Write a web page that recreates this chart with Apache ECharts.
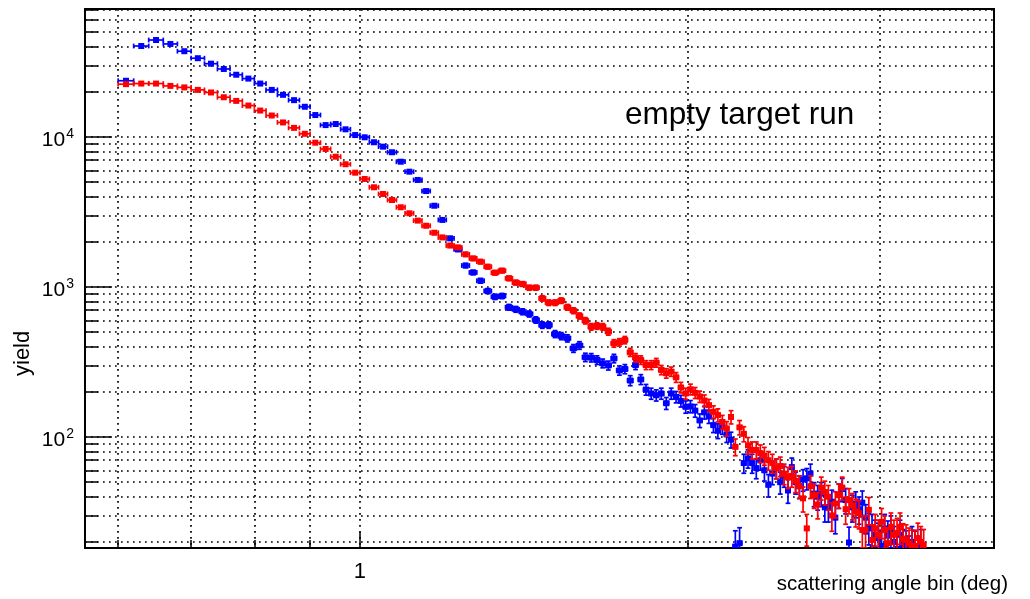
<!DOCTYPE html>
<html><head><meta charset="utf-8">
<script src="https://cdn.jsdelivr.net/npm/echarts@6/dist/echarts.min.js"></script>
<style>html,body{margin:0;padding:0;background:#fff}#c{width:1030px;height:599px}</style>
</head><body><div id="c"></div>
<script>
// ---- data ----
const binCenters = [
 0.61,0.63,0.65,0.67,0.69,0.71,0.73,0.75,0.77,0.79,
 0.81,0.83,0.85,0.87,0.89,0.91,0.93,0.95,0.97,0.99,
 1.01,1.03,1.05,1.07,1.09,1.11,1.13,1.15,1.17,1.19,
 1.21,1.23,1.25,1.27,1.29,1.31,1.33,1.35,1.37,1.39,
 1.41,1.43,1.45,1.47,1.49,1.51,1.53,1.55,1.57,1.59,
 1.61,1.63,1.65,1.67,1.69,1.71,1.73,1.75,1.77,1.79,
 1.81,1.83,1.85,1.87,1.89,1.91,1.93,1.95,1.97,1.99,
 2.01,2.03,2.05,2.07,2.09,2.11,2.13,2.15,2.17,2.19,
 2.21,2.23,2.25,2.27,2.29,2.31,2.33,2.35,2.37,2.39,
 2.41,2.43,2.45,2.47,2.49,2.51,2.53,2.55,2.57,2.59,
 2.61,2.63,2.65,2.67,2.69,2.71,2.73,2.75,2.77,2.79,
 2.81,2.83,2.85,2.87,2.89,2.91,2.93,2.95,2.97,2.99,
 3.01,3.03,3.05,3.07,3.09,3.11,3.13,3.15,3.17,3.19,
 3.21,3.23,3.25,3.27,3.29
];
const binHalfWidth = 0.01;
const blueYield = [
 23700,40400,44300,41700,37300,33500,30800,28400,26000,24500,
 22700,20600,19100,17600,15900,14000,12000,12200,11250,10300,
 9950,9220,8620,7910,6840,5870,5170,4360,3480,2800,
 2110,1780,1390,1250,1100,940,860,871,733,710,
 684,661,603,558,558,486,471,455,390,408,
 340,338,326,310,300,334,278,284,238,302,
 242,207,195,190,195,168,195,185,174,159,
 160,150,129,146,137,120,110,117,104,96,
 18.6,19.6,67,72,67,62,70,60,48,57,
 62,50,55,44,63,50,47,52,53,57,
 42,40,42,34,34,37,29,41,45,38,
 19.8,34,36,33,36.5,29,25,24.6,22.3,21.2,
 18.8,24.6,22,24,20,18,22.3,19,18.6,17,
 20,18.5,16,19,15
];
const redYield = [
 22500,22700,22700,21900,21400,20600,19800,18400,17400,16200,
 15000,13900,12500,11500,10500,9160,8320,7390,6580,5780,
 5250,4620,4170,3800,3400,3100,2770,2560,2300,2140,
 1890,1835,1650,1550,1475,1365,1245,1285,1143,1070,
 1047,989,989,840,786,786,811,733,695,641,
 596,543,550,543,504,421,428,443,367,338,
 326,302,302,313,280,266,273,250,214,195,
 208,197,186,175,163,147,140,126,114,136,
 86,116,105,88,82,82,78,75,70,67,
 62,64,57,54,55,51,47,39,24.6,47,
 41,35.5,46,43,40,30,36,41,46,33,
 38,35,31.8,31,24,24,32.7,20.6,24.6,22.3,
 27.2,24,19.6,25.2,22.3,23,25.2,21,20.6,19.5,
 18.8,18.8,21.2,20,19
];
const poissonScale = 1.4; // yield = scale * counts
const xRange = [0.5594, 3.817];
const yRange = [18.2, 71300];
const xMajorTicks = [1];
const xMinorTicks = [0.6, 0.7, 0.8, 0.9, 2, 3];
const yMajorTicks = [100, 1000, 10000];
const yMinorTicks = [20,30,40,50,60,70,80,90,200,300,400,500,600,700,800,900,
  2000,3000,4000,5000,6000,7000,8000,9000,20000,30000,40000,50000,60000,70000];

// ---- build ----
function buildData(vals) {
  return binCenters.map((x, i) => [x, vals[i], Math.sqrt(poissonScale * vals[i]), binHalfWidth]);
}
function makeRender(color) {
  return function (params, api) {
    const x = api.value(0), y = api.value(1), e = api.value(2), hw = api.value(3);
    const c = api.coord([x, y]);
    const l = api.coord([x - hw, y]);
    const r = api.coord([x + hw, y]);
    const t = api.coord([x, y + e]);
    const b = api.coord([x, Math.max(y - e, 0.01)]);
    const cap = 2.4, s = 3;
    const st = { stroke: color, lineWidth: 1.7 };
    return { type: 'group', children: [
      { type: 'line', shape: { x1: l[0], y1: c[1], x2: r[0], y2: c[1] }, style: st },
      { type: 'line', shape: { x1: l[0], y1: c[1] - cap, x2: l[0], y2: c[1] + cap }, style: st },
      { type: 'line', shape: { x1: r[0], y1: c[1] - cap, x2: r[0], y2: c[1] + cap }, style: st },
      { type: 'line', shape: { x1: c[0], y1: t[1], x2: c[0], y2: b[1] }, style: st },
      { type: 'line', shape: { x1: c[0] - cap, y1: t[1], x2: c[0] + cap, y2: t[1] }, style: st },
      { type: 'line', shape: { x1: c[0] - cap, y1: b[1], x2: c[0] + cap, y2: b[1] }, style: st },
      { type: 'rect', shape: { x: c[0] - s, y: c[1] - s, width: 2 * s, height: 2 * s }, style: { fill: color } }
    ]};
  };
}
const FONT = 'Liberation Sans, Arial, Helvetica, sans-serif';
const gridDots = { show: true, lineStyle: { color: '#000', width: 1.7, type: [1.7, 4.3] } };
const supers = { 2: '2', 3: '3', 4: '4' };

const chart = echarts.init(document.getElementById('c'), null, { renderer: 'canvas' });
chart.setOption({
  backgroundColor: '#fff',
  animation: false,
  grid: { left: 85, right: 36, top: 9, bottom: 51, show: true, borderColor: '#000', borderWidth: 2, backgroundColor: 'transparent' },
  xAxis: [
    { type: 'log', min: xRange[0], max: xRange[1], position: 'bottom',
      axisLine: { show: true, onZero: false, lineStyle: { color: '#000', width: 2 } },
      axisTick: { show: true, inside: true, length: 16, customValues: xMajorTicks, lineStyle: { color: '#000', width: 1.5 } },
      axisLabel: { show: true, customValues: xMajorTicks, margin: 13, color: '#000', fontSize: 22, fontFamily: FONT, formatter: v => String(Math.round(v)) },
      splitLine: gridDots, minorTick: { show: false }, minorSplitLine: { show: false } },
    { type: 'log', min: xRange[0], max: xRange[1], position: 'bottom', offset: 0,
      axisLine: { show: false },
      axisTick: { show: true, inside: true, length: 8, customValues: xMinorTicks, lineStyle: { color: '#000', width: 1.5 } },
      axisLabel: { show: false },
      splitLine: gridDots }
  ],
  yAxis: [
    { type: 'log', min: yRange[0], max: yRange[1], position: 'left',
      axisLine: { show: true, onZero: false, lineStyle: { color: '#000', width: 2 } },
      axisTick: { show: true, inside: true, length: 27, customValues: yMajorTicks, lineStyle: { color: '#000', width: 1.5 } },
      axisLabel: { show: true, customValues: yMajorTicks, margin: 11, color: '#000',
        formatter: v => '{b|10}{s|' + supers[Math.round(Math.log10(v))] + '}',
        rich: { b: { fontSize: 21, fontFamily: FONT, color: '#000', padding: [6, 0, 0, 0] },
                s: { fontSize: 14, fontFamily: FONT, color: '#000', padding: [0, 0, 6, 1] } } },
      splitLine: gridDots, minorTick: { show: false }, minorSplitLine: { show: false } },
    { type: 'log', min: yRange[0], max: yRange[1], position: 'left', offset: 0,
      axisLine: { show: false },
      axisTick: { show: true, inside: true, length: 13, customValues: yMinorTicks, lineStyle: { color: '#000', width: 1.5 } },
      axisLabel: { show: false },
      splitLine: gridDots }
  ],
  graphic: [
    { type: 'text', left: 625, top: 99, style: { text: 'empty target run', fontSize: 31.5, fontFamily: FONT, fill: '#000' } },
    { type: 'text', x: 12, y: 376, rotation: Math.PI / 2, style: { text: 'yield', fontSize: 22, fontFamily: FONT, fill: '#000' } },
    { type: 'text', right: 22, top: 574, style: { text: 'scattering angle bin (deg)', fontSize: 20.5, fontFamily: FONT, fill: '#000' } }
  ],
  series: [
    { name: 'blue', type: 'custom', xAxisIndex: 0, yAxisIndex: 0, clip: true,
      renderItem: makeRender('#0000ff'), data: buildData(blueYield), z: 3 },
    { name: 'red', type: 'custom', xAxisIndex: 0, yAxisIndex: 0, clip: true,
      renderItem: makeRender('#ff0000'), data: buildData(redYield), z: 4 }
  ]
});
</script>
</body></html>
